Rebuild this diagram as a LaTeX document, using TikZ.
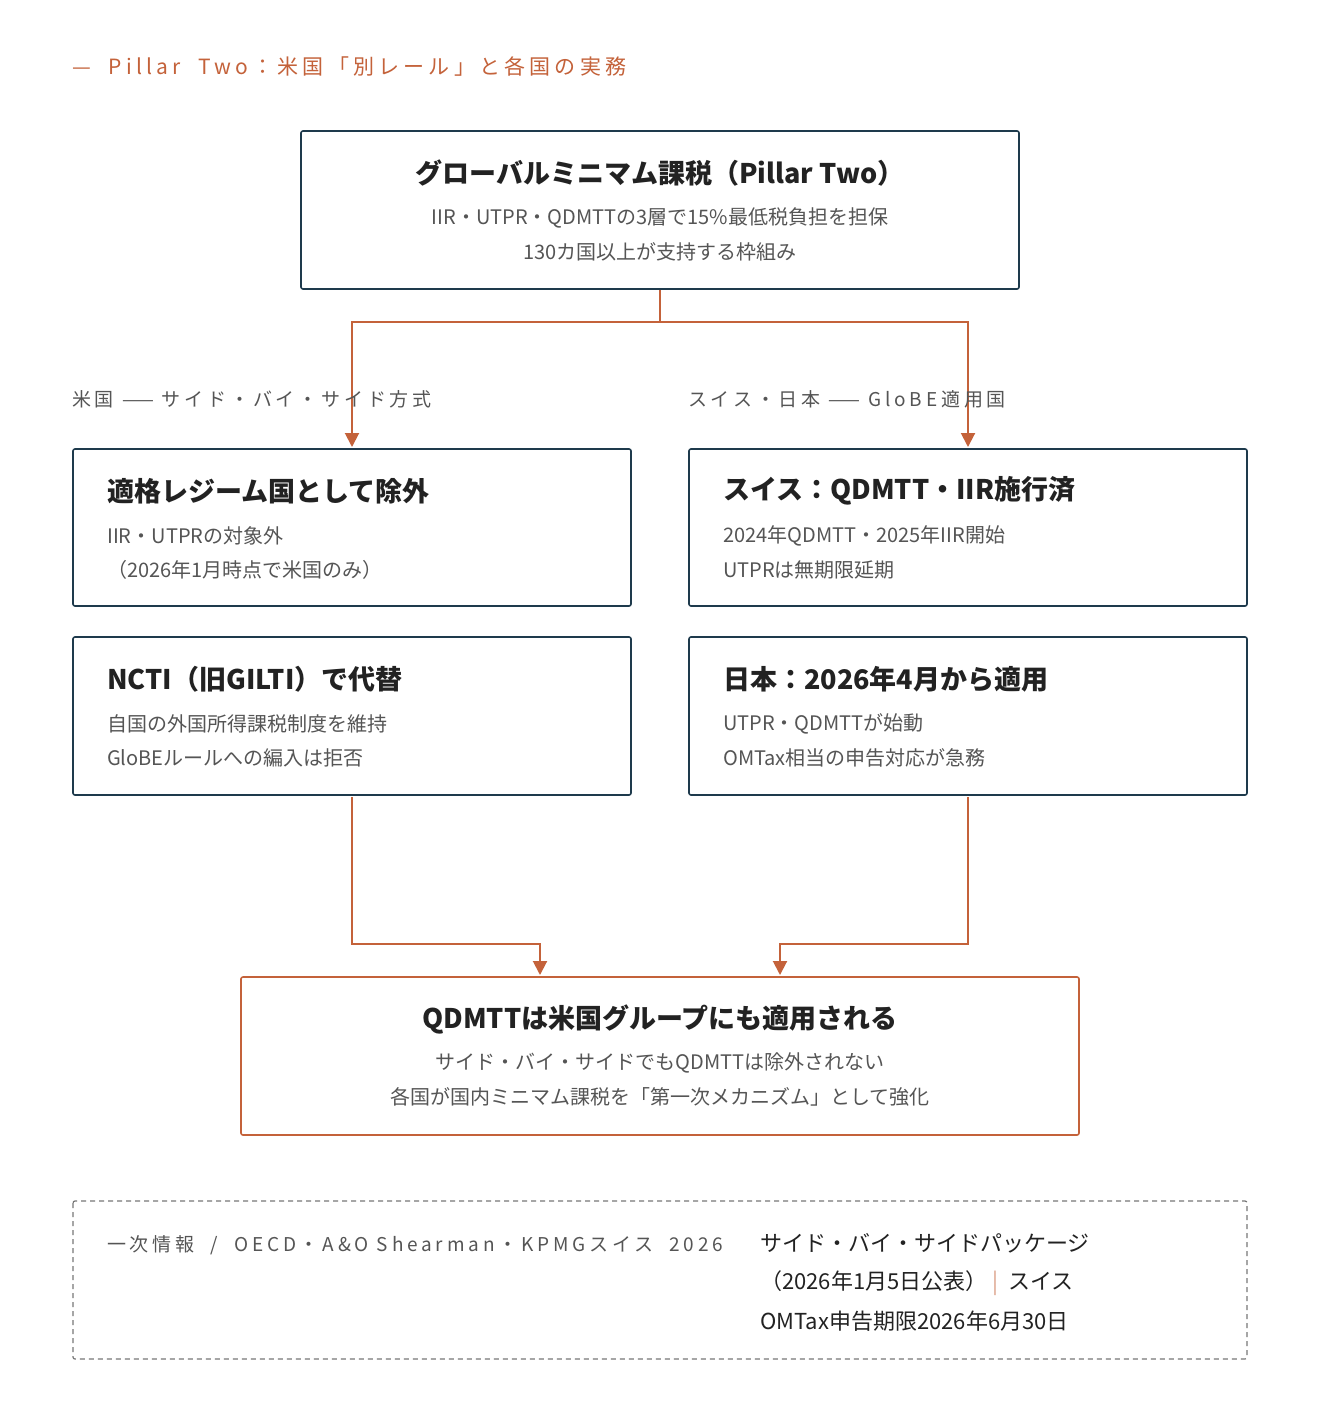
\documentclass[tikz,border=0pt]{standalone}
\usepackage{fontspec}
\setmainfont{Noto Sans CJK JP}
\newfontfamily\jp{Noto Sans CJK JP}
\newfontfamily\jpmono{Noto Sans CJK JP}[LetterSpace=20]
\usetikzlibrary{arrows.meta}
\definecolor{acc}{HTML}{C4623A}
\definecolor{navy}{HTML}{1E3A4C}
\definecolor{txt}{HTML}{555555}
\definecolor{dark}{HTML}{222222}
\begin{document}
\begin{tikzpicture}[x=1pt,y=-1pt,
 box/.style={draw=navy,line width=1.6pt,rounded corners=2pt},
 obox/.style={draw=acc,line width=1.6pt,rounded corners=2pt},
 ttl/.style={font=\fontsize{27}{30}\selectfont\bfseries,text=dark,inner sep=0},
 sub/.style={font=\fontsize{20}{24}\selectfont,text=txt,inner sep=0},
 lbl/.style={font=\jpmono\fontsize{19}{22}\selectfont,text=txt,inner sep=0,anchor=west},
 conn/.style={draw=acc,line width=2pt,-{Triangle[length=14pt,width=14pt]}}]
\useasboundingbox[fill=white] (0,0) rectangle (1320,1420);
\node[anchor=west,inner sep=0,text=acc,font=\jpmono\fontsize{21}{24}\selectfont] (t) at (72,67) {—\ \ Pillar\ \ Two：米国「別レール」と各国の実務};
% top box
\draw[box] (301,131) rectangle (1019,289);
\node[ttl] (a) at (660,173) {グローバルミニマム課税（Pillar Two）};
\node[sub] (a1) at (660,218) {IIR・UTPR・QDMTTの3層で15\%最低税負担を担保};
\node[sub] (a2) at (660,252) {130カ国以上が支持する枠組み};
\coordinate (atop) at (660,290);
\coordinate (sp) at (660,322);
\coordinate (L) at (352,447);
\coordinate (R) at (968,447);
\draw[conn] (atop) -- (sp) -| (L);
\draw[conn] (sp) -| (R);
\node[lbl] (la) at (72,399) {米国\ —— サイド・バイ・サイド方式};
\node[lbl] (lb) at (688,399) {スイス・日本\ —— GloBE適用国};
% boxes
\draw[box] (73,449) rectangle (631,606);
\draw[box] (689,449) rectangle (1247,606);
\draw[box] (73,637) rectangle (631,795);
\draw[box] (689,637) rectangle (1247,795);
\node[ttl,anchor=west] (b) at (107,491) {適格レジーム国として除外};
\node[sub,anchor=west] (b1) at (107,536) {IIR・UTPRの対象外};
\node[sub,anchor=west] (b2) at (107,570) {（2026年1月時点で米国のみ）};
\node[ttl,anchor=west] (c) at (723,491) {スイス：QDMTT・IIR施行済};
\node[sub,anchor=west] (c1) at (723,536) {2024年QDMTT・2025年IIR開始};
\node[sub,anchor=west] (c2) at (723,570) {UTPRは無期限延期};
\node[ttl,anchor=west] (d) at (107,679) {NCTI（旧GILTI）で代替};
\node[sub,anchor=west] (d1) at (107,724) {自国の外国所得課税制度を維持};
\node[sub,anchor=west] (d2) at (107,758) {GloBEルールへの編入は拒否};
\node[ttl,anchor=west] (e) at (723,679) {日本：2026年4月から適用};
\node[sub,anchor=west] (e1) at (723,724) {UTPR・QDMTTが始動};
\node[sub,anchor=west] (e2) at (723,758) {OMTax相当の申告対応が急務};
\coordinate (dl) at (352,797);
\coordinate (dr) at (968,797);
\coordinate (fl) at (540,975);
\coordinate (fr) at (780,975);
\draw[conn] (dl) |- (446,944) -| (fl);
\draw[conn] (dr) |- (874,944) -| (fr);
% bottom
\draw[obox] (241,977) rectangle (1079,1135);
\node[ttl] (f) at (660,1019) {QDMTTは米国グループにも適用される};
\node[sub] (f1) at (660,1063) {サイド・バイ・サイドでもQDMTTは除外されない};
\node[sub] (f2) at (660,1097) {各国が国内ミニマム課税を「第一次メカニズム」として強化};
% source
\draw[draw=txt!80,line width=1.2pt,dash pattern=on 5pt off 4pt,rounded corners=2pt] (73,1201) rectangle (1247,1359);
\node[lbl] (g) at (107,1245) {一次情報\ \ /\ \ OECD・A\&O\ Shearman・KPMGスイス\ \ 2026};
\node[anchor=west,inner sep=0,text=dark,font=\fontsize{22}{26}\selectfont] (g1) at (760,1243) {サイド・バイ・サイドパッケージ};
\node[anchor=west,inner sep=0,text=dark,font=\fontsize{22}{26}\selectfont] (g2) at (760,1283) {（2026年1月5日公表）\ {\color{acc!60}|}\ \ スイス};
\node[anchor=west,inner sep=0,text=dark,font=\fontsize{22}{26}\selectfont] (g3) at (760,1321) {OMTax申告期限2026年6月30日};
\end{tikzpicture}
\end{document}
